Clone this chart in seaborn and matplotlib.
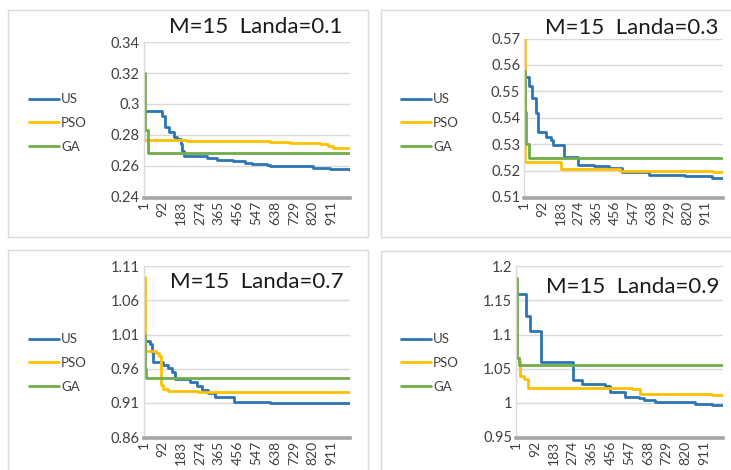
import numpy as np
import pandas as pd
import matplotlib
matplotlib.use('Agg')
import matplotlib.pyplot as plt
from matplotlib.patches import Rectangle
import seaborn as sns

# step breakpoints: (start iteration, value)
us_01_it = [1, 90, 103, 122, 148, 164, 180, 188, 195, 306, 354, 435, 491, 524, 596, 612, 709, 822, 903, 1000]
us_01_v = [0.2952, 0.2920, 0.2850, 0.2817, 0.2785, 0.2774, 0.2741, 0.2698, 0.2663, 0.2648, 0.2635,
           0.2630, 0.2620, 0.2612, 0.2605, 0.2600, 0.2595, 0.2585, 0.2580, 0.2575]
pso_01_it = [1, 4, 209, 612, 709, 854, 895, 919, 1000]
pso_01_v = [0.285, 0.2767, 0.2760, 0.2752, 0.2746, 0.2740, 0.2725, 0.2715, 0.2715]
ga_01_it = [1, 8, 22, 1000]
ga_01_v = [0.320, 0.283, 0.268, 0.268]

us_03_it = [1, 25, 38, 62, 68, 108, 135, 145, 203, 272, 350, 426, 493, 627, 812, 946, 1000]
us_03_v = [0.5553, 0.5519, 0.5475, 0.5417, 0.5347, 0.5328, 0.5315, 0.5296, 0.5252, 0.5223,
           0.5216, 0.5210, 0.5194, 0.5182, 0.5178, 0.5171, 0.5171]
pso_03_it = [1, 3, 187, 483, 819, 950, 1000]
pso_03_v = [0.5717, 0.5233, 0.5207, 0.5200, 0.5197, 0.5195, 0.5195]
ga_03_it = [1, 5, 12, 25, 1000]
ga_03_v = [0.5576, 0.542, 0.530, 0.5248, 0.5248]

us_07_it = [1, 30, 39, 47, 96, 120, 136, 152, 225, 258, 282, 314, 347, 436, 613, 1000]
us_07_v = [1.001, 0.996, 0.985, 0.970, 0.966, 0.961, 0.955, 0.9445, 0.941, 0.935, 0.929,
           0.924, 0.918, 0.9115, 0.910, 0.910]
pso_07_it = [1, 6, 62, 76, 86, 95, 118, 264, 1000]
pso_07_v = [1.0944, 0.9855, 0.983, 0.978, 0.936, 0.931, 0.9275, 0.926, 0.926]
ga_07_it = [1, 5, 10, 1000]
ga_07_v = [1.010, 0.960, 0.947, 0.947]

us_09_it = [1, 50, 67, 122, 277, 318, 430, 456, 528, 593, 620, 673, 867, 948, 1000]
us_09_v = [1.160, 1.127, 1.105, 1.060, 1.033, 1.028, 1.025, 1.016, 1.0086, 1.0065, 1.0047,
           1.0015, 0.999, 0.9975, 0.9975]
pso_09_it = [1, 12, 20, 40, 57, 561, 601, 950, 1000]
pso_09_v = [1.065, 1.062, 1.040, 1.035, 1.0223, 1.021, 1.0125, 1.011, 1.011]
ga_09_it = [1, 4, 12, 1000]
ga_09_v = [1.183, 1.065, 1.055, 1.055]

titles = ['M=15  Landa=0.1', 'M=15  Landa=0.3', 'M=15  Landa=0.7', 'M=15  Landa=0.9']
y_ticks = [[0.24, 0.26, 0.28, 0.30, 0.32, 0.34],
           [0.51, 0.52, 0.53, 0.54, 0.55, 0.56, 0.57],
           [0.86, 0.91, 0.96, 1.01, 1.06, 1.11],
           [0.95, 1.0, 1.05, 1.1, 1.15, 1.2]]
y_labels = [['0.24', '0.26', '0.28', '0.3', '0.32', '0.34'],
            ['0.51', '0.52', '0.53', '0.54', '0.55', '0.56', '0.57'],
            ['0.86', '0.91', '0.96', '1.01', '1.06', '1.11'],
            ['0.95', '1', '1.05', '1.1', '1.15', '1.2']]
x_ticks = [1, 92, 183, 274, 365, 456, 547, 638, 729, 820, 911]
methods = ['US', 'PSO', 'GA']
colors = {'US': '#2E75B6', 'PSO': '#FFC000', 'GA': '#70AD47'}

panels = [
    [(us_01_it, us_01_v), (pso_01_it, pso_01_v), (ga_01_it, ga_01_v)],
    [(us_03_it, us_03_v), (pso_03_it, pso_03_v), (ga_03_it, ga_03_v)],
    [(us_07_it, us_07_v), (pso_07_it, pso_07_v), (ga_07_it, ga_07_v)],
    [(us_09_it, us_09_v), (pso_09_it, pso_09_v), (ga_09_it, ga_09_v)],
]

sns.set_style('white')
plt.rcParams['font.family'] = ['Lato', 'DejaVu Sans']

W, H = 731, 470
fig = plt.figure(figsize=(W / 100, H / 100), dpi=100)

def fx(px):
    return px / W

def fy(py):
    return 1 - py / H

# axes boxes in pixels: left, right, top, bottom
boxes = [(143.7, 350, 42.3, 196.5), (524.3, 722.7, 38.5, 197),
         (143.7, 350, 266.3, 437), (516.3, 722.7, 266.3, 437)]
frames = [(8, 10, 368, 237), (381, 10, 735, 237), (8, 250, 368, 480), (381, 251, 735, 480)]
title_pos = [(342, 27), (718, 28), (343, 282), (719, 287)]
legend_pos = [(22, 123), (394, 123), (22, 363), (394, 363)]

for i in range(4):
    x0, y0, x1, y1 = frames[i]
    fig.add_artist(Rectangle((fx(x0), fy(y1)), fx(x1 - x0), (y1 - y0) / H, transform=fig.transFigure,
                             fill=False, edgecolor='#d9d9d9', linewidth=1))
    l, r, t, b = boxes[i]
    ax = fig.add_axes([fx(l), fy(b), fx(r - l), (b - t) / H])

    rows = []
    for m, (its, vals) in zip(methods, panels[i]):
        for it, v in zip(its, vals):
            rows.append({'iteration': it, 'value': v, 'method': m})
    df = pd.DataFrame(rows)
    sns.lineplot(data=df, x='iteration', y='value', hue='method', hue_order=methods,
                 palette=colors, drawstyle='steps-post', linewidth=2, estimator=None,
                 ax=ax, legend=False)

    ax.set_xlim(1, 1000)
    ax.set_ylim(y_ticks[i][0], y_ticks[i][-1])
    ax.set_yticks(y_ticks[i])
    ax.set_yticklabels(y_labels[i])
    ax.set_xticks(x_ticks)
    ax.set_xticklabels([str(x) for x in x_ticks])
    ax.set_xlabel('')
    ax.set_ylabel('')
    ax.grid(axis='y', color='#d9d9d9', linewidth=1)
    ax.grid(axis='x', visible=False)
    for s in ['top', 'right']:
        ax.spines[s].set_visible(False)
    ax.spines['left'].set_color('#d9d9d9')
    ax.spines['left'].set_linewidth(1)
    ax.spines['bottom'].set_color('#a6a6a6')
    ax.spines['bottom'].set_linewidth(2.6)
    ax.spines['bottom'].set_position(('outward', 0.8))
    ax.tick_params(axis='both', length=0, labelsize=10.5, colors='#404040', pad=3)
    ax.tick_params(axis='x', pad=2, labelrotation=90, labelsize=10)

    handles = [plt.Line2D([], [], color=colors[m], linewidth=2) for m in methods]
    lx, ly = legend_pos[i]
    ax.legend(handles, methods, loc='center left', bbox_to_anchor=(fx(lx), fy(ly)),
              bbox_transform=fig.transFigure, frameon=False, fontsize=9.5,
              handlelength=2.3, handletextpad=0.15, labelspacing=0.9, borderpad=0,
              labelcolor='#404040')

    tx, ty = title_pos[i]
    fig.text(fx(tx), fy(ty), titles[i], ha='right', va='center', fontsize=16, color='#1a1a1a')

fig.savefig('out.png', dpi=100)
